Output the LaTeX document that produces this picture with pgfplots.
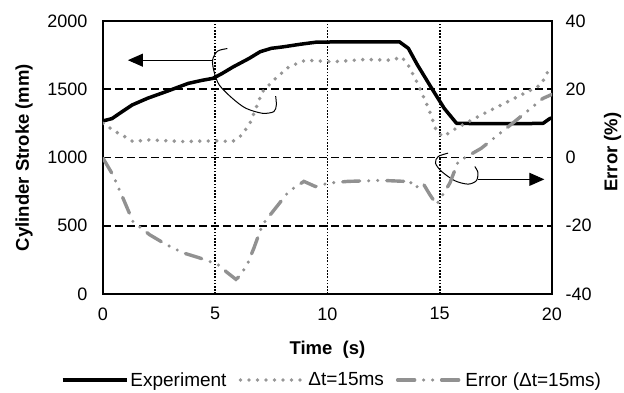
\documentclass[border=0pt]{standalone}
\usepackage{fontspec}
\setmainfont{Liberation Sans}
\usepackage{pgfplots}
\pgfplotsset{compat=1.18}
\usetikzlibrary{arrows.meta}
\definecolor{sergray}{RGB}{150,150,150}
\definecolor{errgray}{RGB}{145,145,145}

\begin{document}
\begin{tikzpicture}
\pgfplotsset{
  common/.style={
    scale only axis, width=449pt, height=273pt, at={(0pt,0pt)}, anchor=south west,
    xmin=0, xmax=20,
    /pgf/number format/assume math mode=true,
    /pgf/number format/1000 sep={},
    tick style={draw=none},
    tick label style={font=\fontsize{18}{21}\selectfont},
  },
  errstyle/.style={errgray, line width=3.4pt, line cap=round, dash pattern=on 17pt off 9pt on 0pt off 9pt on 0pt off 9pt},
  dotstyle/.style={sergray, line width=3.9pt, line cap=round, dash pattern=on 0pt off 8.5pt},
}
\begin{axis}[common,
  ymin=0, ymax=2000, ytick={0,500,...,2000}, xtick={0,5,...,20},
  axis line style={line width=2pt},
  ymajorgrids, xmajorgrids,
  major y grid style={black, line width=1.6pt, dash pattern=on 8pt off 4pt},
  major x grid style={black, line width=1.6pt, dash pattern=on 1.6pt off 1.6pt},
  yticklabel style={anchor=east, xshift=-12pt},
  xticklabel style={anchor=north, yshift=-10pt},
  scaled y ticks=false,
  ylabel={Cylinder Stroke (mm)},
  ylabel style={at={(axis description cs:-0.176,0.5)}, anchor=center, font=\bfseries\fontsize{18.5}{21}\selectfont},
  xlabel={Time\ \ (s)},
  xlabel style={at={(axis description cs:0.5,-0.205)}, anchor=center, font=\bfseries\fontsize{18.5}{21}\selectfont},
  legend style={at={(axis description cs:0.51,-0.315)}, anchor=center, draw=none, fill=none,
    font=\fontsize{19}{22}\selectfont, legend columns=3,
    /tikz/every even column/.append style={column sep=10pt},
    nodes={inner xsep=2pt}},
  legend image code/.code={\draw[#1] (0pt,0pt) -- (64pt,0pt);},
]
\addplot[black, line width=3.5pt, line join=round] coordinates {
(0,1268)(0.4,1285)(0.8,1330)(1.3,1385)(2.0,1435)(2.8,1482)(3.8,1543)(4.4,1565)(4.9,1580)
(5.3,1615)(5.8,1664)(6.5,1725)(7.0,1775)(7.5,1800)(8,1810)(8.8,1830)(9.5,1845)(11,1848)
(13.2,1848)(13.6,1800)(14.0,1680)(14.6,1518)(15.2,1360)(15.75,1250)(17,1248)(18.5,1248)
(19.6,1250)(19.9,1285)(20,1290)};
\addlegendentry{Experiment}
\addplot[dotstyle] coordinates {
(0,1250)(0.1,1239)(0.6,1185)(1.0,1150)(1.33,1117)(2.07,1129)(3.55,1117)(5.0,1122)(5.77,1117)
(6.2,1166)(6.58,1263)(7.1,1482)(7.69,1580)(8.28,1664)(9.02,1713)(10.2,1701)(11.68,1718)
(12.87,1713)(13.3,1737)(13.6,1676)(14.05,1530)(14.5,1360)(14.86,1190)(15.15,1153)(15.74,1215)
(16.85,1312)(18.33,1434)(19.5,1531)(19.74,1604)(19.9,1660)};
\addlegendentry{Δt=15ms}
\addlegendimage{errstyle}
\addlegendentry{Error (Δt=15ms)}
% annotations
\addplot[forget plot, black, line width=1pt, -{Triangle[length=15pt,width=13pt]}] coordinates {(4.88,1713)(1.11,1713)};
\addplot[forget plot, black, line width=1pt, smooth] coordinates {(5.54,1798)(5.10,1779)(4.88,1713)(4.95,1628)(5.18,1531)(5.76,1434)(6.36,1361)(7.10,1324)(7.61,1336)(7.72,1385)(7.69,1450)};
\addplot[forget plot, black, line width=1pt, -{Triangle[length=15pt,width=13pt]}] coordinates {(16.70,840)(19.66,840)};
\addplot[forget plot, black, line width=1pt, smooth] coordinates {(15.37,1032)(14.93,1007)(14.81,959)(15.08,898)(15.67,830)(16.26,805)(16.63,830)(16.70,890)(16.56,934)};
\end{axis}
\begin{axis}[common,
  ymin=-40, ymax=40, ytick={-40,-20,...,40},
  axis x line=none, axis y line*=right, axis line style={draw=none},
  yticklabel style={anchor=west, xshift=10pt},
  ylabel={Error (\%)},
  ylabel style={at={(axis description cs:1.135,0.52)}, anchor=center, font=\bfseries\fontsize{18.5}{21}\selectfont},
]
\addplot[errstyle] coordinates {
(0,-0.2)(0.44,-5.1)(0.89,-11.9)(1.33,-18.7)(2.07,-22.6)(2.81,-25.5)(3.55,-27.9)(4.29,-29.4)
(5.1,-31.3)(5.55,-33.8)(5.92,-35.7)(6.1,-34.7)(6.43,-31.3)(6.73,-26.4)(7.1,-19.7)(7.69,-14.8)
(8.28,-9.9)(8.95,-7.0)(9.46,-8.5)(10.05,-7.5)(10.9,-7.0)(12.4,-6.7)(13.45,-7.0)(13.6,-6.5)
(13.9,-8.9)(14.25,-7.5)(14.56,-10.9)(14.86,-13.8)(15.23,-9.9)(15.45,-7.5)(15.82,-1.2)
(16.85,2.7)(18.33,10.5)(19.59,17.3)(20,18.5)};
\end{axis}
\pgfresetboundingbox
\useasboundingbox (-103pt,-98pt) rectangle (521pt,294pt);
\end{tikzpicture}
\end{document}
